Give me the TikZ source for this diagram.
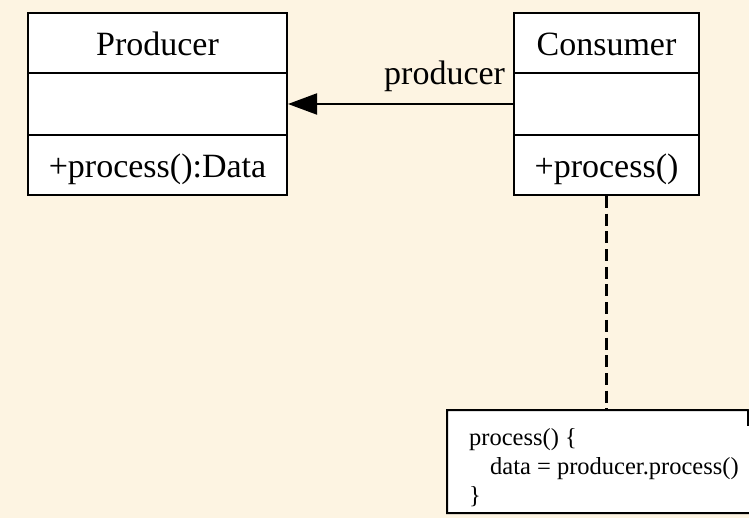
\documentclass[tikz,border=0pt]{standalone}
\usepackage{fontspec}
\setmainfont{Liberation Serif}
\usetikzlibrary{arrows.meta}
\definecolor{paper}{RGB}{253,244,226}
\tikzset{
  x=1pt, y=-1pt,
  compartment/.style={draw, line width=2pt, fill=white, inner sep=0pt,
    font=\fontsize{34}{40}\selectfont, text height=30pt, text depth=5pt},
  assoc/.style={line width=2pt, -{Triangle[length=29pt,width=21pt]}},
  notelink/.style={line width=2.2pt, dash pattern=on 12pt off 5.7pt},
  noteframe/.style={draw, line width=2pt, fill=white},
  notetext/.style={font=\fontsize{24.5}{29}\selectfont, align=left, inner sep=0pt}
}
\begin{document}
\begin{tikzpicture}
\useasboundingbox (0,0) rectangle (749,518);
\fill[paper] (0,0) rectangle (749,518);

% Producer class: name / attributes / operations
\node[compartment, minimum width=259pt, minimum height=60pt] (prodName) at (157.5,43) {Producer};
\node[compartment, minimum width=259pt, minimum height=62pt] (prodAttr) at (157.5,104) {};
\node[compartment, minimum width=259pt, minimum height=60pt] (prodOps) at (157.5,165) {+process():Data};

% Consumer class
\node[compartment, minimum width=185pt, minimum height=60pt] (consName) at (606.5,43) {Consumer};
\node[compartment, minimum width=185pt, minimum height=62pt] (consAttr) at (606.5,104) {};
\node[compartment, minimum width=185pt, minimum height=60pt] (consOps) at (606.5,165) {+process()};

% navigable association Consumer -> Producer
\draw[assoc] (consAttr.west) -- (prodAttr.east)
  node[pos=0, anchor=base east, font=\fontsize{34}{40}\selectfont, inner sep=0pt, xshift=-7pt, yshift=19pt] (roleLabel) {producer};

% note with folded corner
\draw[noteframe] (447,410) -- (748,410) -- (763,425) -- (763,513) -- (447,513) -- cycle;
\draw[line width=2pt] (748,410) -- (748,425) -- (763,425);
\coordinate (noteTop) at (606.5,410);
\node[notetext, anchor=north west] (noteText) at (469,428)
  {process() \{\\\hspace*{21pt}data = producer.process()\\\}};

% note attachment
\draw[notelink] (consOps.south) -- (noteTop);
\end{tikzpicture}
\end{document}
